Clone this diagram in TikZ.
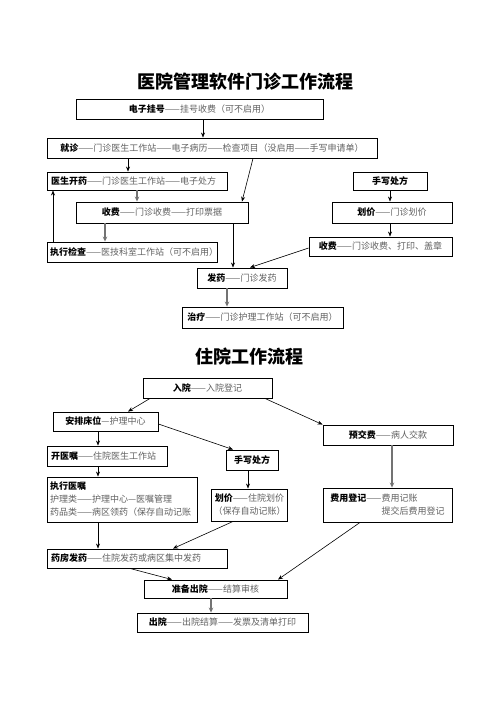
\documentclass[tikz,border=0pt]{standalone}
\usepackage{fontspec}
\setmainfont{Noto Sans CJK SC}
\usetikzlibrary{arrows.meta}
\newcommand\grt[1]{\textcolor{black!62}{#1}}
\begin{document}
\begin{tikzpicture}[x=1pt,y=-1pt,
 box/.style={draw, line width=0.9pt, inner xsep=4pt, inner ysep=0pt, font=\fontsize{9}{13}\selectfont},
 sz/.style 2 args={minimum width=#1pt, minimum height=#2pt},
 lbox/.style={box, align=left, text width=#1pt},
 arr/.style={-{Stealth[length=5pt,width=4pt]}, line width=0.6pt},
 garr/.style={-{Stealth[length=5pt,width=4.5pt]}, line width=1.3pt, draw=black!55, fill=black!70},
 title/.style={font=\fontsize{18}{20}\selectfont\bfseries}]
\useasboundingbox (0,0) rectangle (496,702);
\fill[white] (0,0) rectangle (496,702);

% ---------- outpatient ----------
\node[title] (t1) at (245,82) {医院管理软件门诊工作流程};
\node[box, sz={247}{20}] (reg) at (199.5,109) {\textbf{电子挂号}\grt{——挂号收费（可不启用）}};
\node[box, sz={330}{20}] (jz) at (212,148) {\textbf{就诊}\grt{——门诊医生工作站——电子病历——检查项目（没启用——手写申请单）}};
\node[lbox=172, sz={180}{18}] (ysky) at (137,181) {\mbox{\textbf{医生开药}\grt{——门诊医生工作站——电子处方}}};
\node[box, sz={74}{18}] (sxcf) at (390,181) {\textbf{手写处方}};
\node[box, sz={172}{21}] (sf) at (162,212.5) {\textbf{收费}\grt{——门诊收费——打印票据}};
\node[box, sz={120}{21}] (hj) at (392,212.5) {\textbf{划价}\grt{——门诊划价}};
\node[lbox=164, sz={170}{20}, inner xsep=3pt] (zxjc) at (132,252) {\mbox{\textbf{执行检查}\grt{——医技科室工作站（可不启用）}}};
\node[box, sz={143}{19}] (sf2) at (380.5,246.5) {\textbf{收费}\grt{——门诊收费、打印、盖章}};
\node[box, sz={90}{20}] (fy) at (242,278) {\textbf{发药}\grt{——门诊发药}};
\node[box, sz={161}{21}] (zl) at (262.5,317.5) {\textbf{治疗}\grt{——门诊护理工作站（可不启用）}};

\draw[arr] (reg.south -| 203,0) -- (jz.north -| 203,0);
\draw[arr] (jz.south -| 128,0) -- (ysky.north -| 128,0);
\draw[arr] (jz.south -| 253,0) -- (sf.north -| 242,0);
\draw[garr] (ysky.south -| 137,0) -- (sf.north -| 137,0);
\draw[garr] (sf.south -| 105,0) -- (zxjc.north -| 105,0);
\draw[arr] (zxjc.north -| 53,0) -- (ysky.south -| 53,0);
\draw[arr] (sf.south -| 233,0) -- (fy.north -| 233,0);
\draw[arr] (sxcf.south -| 390,0) -- (hj.north -| 390,0);
\draw[arr] (hj.south -| 390,0) -- (sf2.north -| 390,0);
\draw[arr] (sf2.west |- 0,248) -- (fy.north -| 250,0);
\draw[garr] (fy.south -| 227,0) -- (zl.north -| 227,0);

% ---------- inpatient ----------
\node[title] (t2) at (249,357) {住院工作流程};
\node[box, sz={129}{20}] (ry) at (207.5,388) {\textbf{入院}\grt{——入院登记}};
\node[box, sz={105}{19}] (apcw) at (105.5,421.5) {\textbf{安排床位}\grt{—护理中心}};
\node[box, sz={130}{20}] (yjf) at (388,435) {\textbf{预交费}\grt{——病人交款}};
\node[lbox=112, sz={120}{20}] (kyz) at (107,456) {\mbox{\textbf{开医嘱}\grt{——住院医生工作站}}};
\node[box, sz={52}{20}, inner xsep=2pt] (sxcf2) at (252,460) {\textbf{手写处方}};
\node[lbox=144, sz={150}{45}, inner xsep=3pt] (zxyz) at (122,499.5) {\textbf{执行医嘱}\\\mbox{\grt{护理类——护理中心—医嘱管理}}\\\mbox{\grt{药品类——病区领药（保存自动记账}}};
\node[box, sz={75}{32}, align=center, inner xsep=2pt] (hj2) at (249.5,505) {\textbf{划价}\grt{——住院划价}\\\grt{（保存自动记账）}};
\node[box, sz={129}{34}, align=left] (fydj) at (387.5,505) {\textbf{费用登记}\grt{——费用记账}\\\hphantom{费用登记——}\grt{提交后费用登记}};
\node[lbox=172, sz={180}{19}] (yffy) at (137,558.5) {\mbox{\textbf{药房发药}\grt{——住院发药或病区集中发药}}};
\node[box, sz={143}{18}] (zbcy) at (215.5,589) {\textbf{准备出院}\grt{——结算审核}};
\node[box, sz={171}{19}] (cy) at (222.5,622.5) {\textbf{出院}\grt{——出院结算——发票及清单打印}};

\draw[arr] (ry.south -| 150,0) -- (apcw.north -| 128,0);
\draw[arr] (ry.south -| 265,0) -- (yjf.north west);
\draw[arr] (apcw.south -| 98,0) -- (kyz.north -| 98,0);
\draw[arr] (apcw.east |- 0,424) -- (sxcf2.north -| 233,0);
\draw[garr] (yjf.south -| 392,0) -- (fydj.north -| 392,0);
\draw[arr] (kyz.south -| 98,0) -- (zxyz.north -| 98,0);
\draw[arr] (sxcf2.south -| 248,0) -- (hj2.north -| 248,0);
\draw[arr] (zxyz.south -| 98,0) -- (yffy.north -| 98,0);
\draw[arr] (hj2.south -| 233,0) -- (yffy.north -| 173,0);
\draw[arr] (fydj.south -| 360,0) -- (zbcy.north -| 278,0);
\draw[arr] (yffy.south -| 130,0) -- (zbcy.north -| 172,0);
\draw[garr] (zbcy.south -| 211,0) -- (cy.north -| 211,0);
\end{tikzpicture}
\end{document}
